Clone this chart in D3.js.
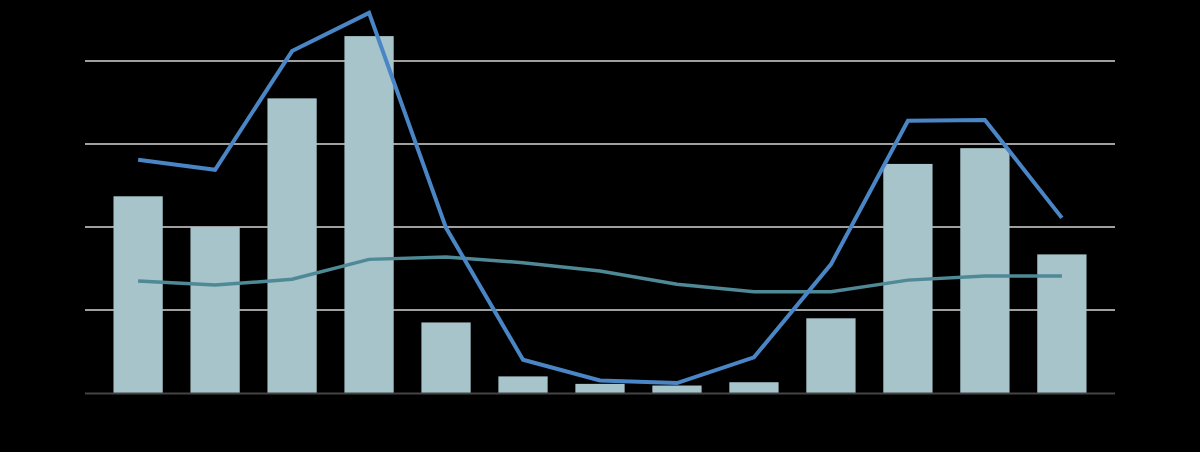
<!DOCTYPE html>
<html>
<head>
<meta charset="utf-8">
<script src="https://cdn.jsdelivr.net/npm/d3@7"></script>
<style>
  html, body { margin: 0; padding: 0; background: #000; }
  svg { display: block; }
</style>
</head>
<body>
<svg id="chart" width="1200" height="452"></svg>
<script>
// ========== DATA ==========
const categories = ["1", "2", "3", "4", "5", "6", "7", "8", "9", "10", "11", "12", "13"];
const barValues = [23.7, 20.0, 35.5, 43.0, 8.5, 2.0, 1.1, 0.9, 1.3, 9.0, 27.6, 29.5, 16.7];
const blueLine = [28.1, 26.9, 41.2, 45.8, 19.9, 4.0, 1.5, 1.2, 4.3, 15.5, 32.8, 32.9, 21.1];
const tealLine = [13.5, 13.0, 13.7, 16.1, 16.4, 15.7, 14.7, 13.1, 12.2, 12.2, 13.6, 14.1, 14.1];
const gridTicks = [10, 20, 30, 40];

// ========== MAIN CODE ==========
const svg = d3.select("#chart");

const x = d3.scaleBand()
    .domain(categories)
    .range([85, 1115])
    .paddingInner(0.36)
    .paddingOuter(0.37);

const y = d3.scaleLinear()
    .domain([0, 40])
    .range([393, 61]);

// gridlines
svg.append("g")
    .selectAll("line")
    .data(gridTicks)
    .enter().append("line")
    .attr("x1", 85)
    .attr("x2", 1115)
    .attr("y1", d => y(d))
    .attr("y2", d => y(d))
    .attr("stroke", "#d4d4d4")
    .attr("stroke-width", 1.5);

// bars
svg.append("g")
    .selectAll("rect")
    .data(barValues)
    .enter().append("rect")
    .attr("x", (d, i) => x(categories[i]))
    .attr("width", x.bandwidth())
    .attr("y", d => y(d))
    .attr("height", d => y(0) - y(d))
    .attr("fill", "#a6c4c9");

// baseline
svg.append("line")
    .attr("x1", 85)
    .attr("x2", 1115)
    .attr("y1", y(0) + 0.5)
    .attr("y2", y(0) + 0.5)
    .attr("stroke", "#444")
    .attr("stroke-width", 2);

const line = d3.line()
    .x((d, i) => x(categories[i]) + x.bandwidth() / 2)
    .y(d => y(d));

svg.append("path")
    .datum(tealLine)
    .attr("d", line)
    .attr("fill", "none")
    .attr("stroke", "#4e8995")
    .attr("stroke-width", 3.5);

svg.append("path")
    .datum(blueLine)
    .attr("d", line)
    .attr("fill", "none")
    .attr("stroke", "#4a86c6")
    .attr("stroke-width", 4);
</script>
</body>
</html>
